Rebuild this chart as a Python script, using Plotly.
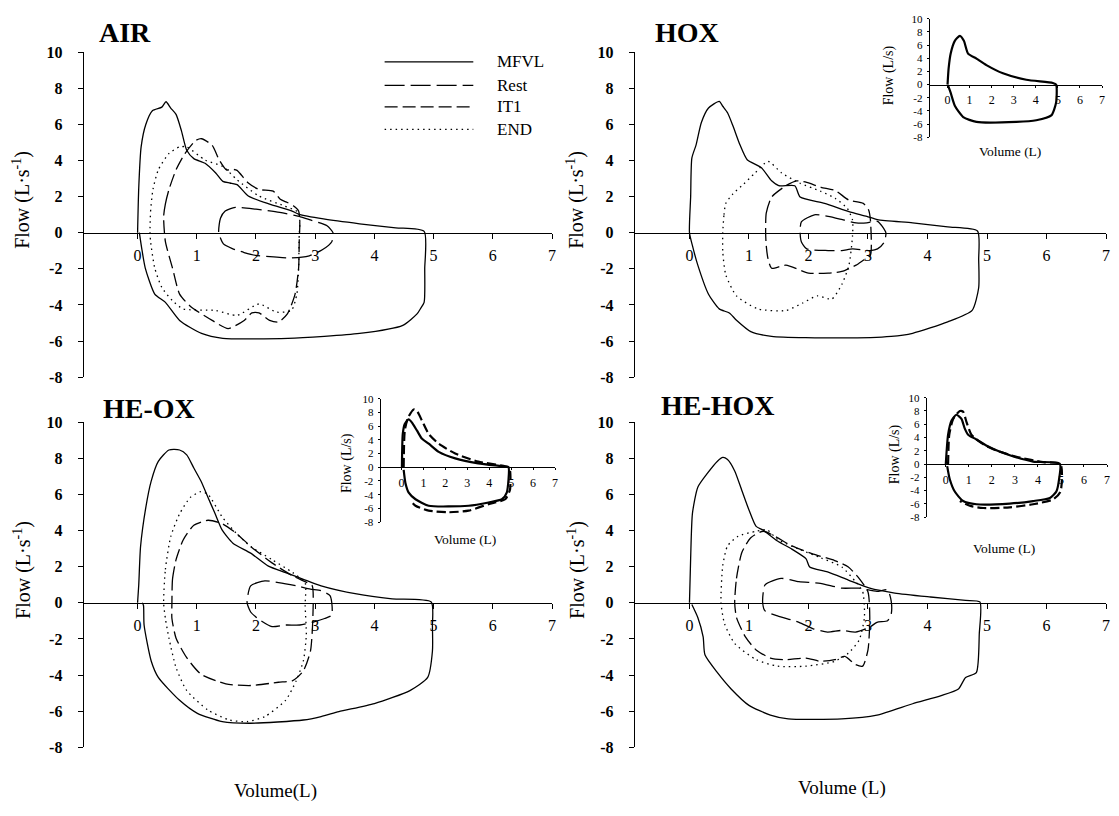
import plotly.graph_objects as go

W, H = 1119, 816
SERIF = "Liberation Serif"

# ---------------- AIR ----------------
air_mfvl_v = [0.0, 0.02, 0.06, 0.14, 0.25, 0.41, 0.48, 0.56, 0.65, 0.74, 0.83, 0.95, 1.14, 1.32, 1.44, 1.56, 1.68, 1.87, 2.23, 2.6, 2.72, 3.14, 3.75, 4.36, 4.84, 4.85, 4.84, 4.78, 4.72, 4.48, 3.75, 2.54, 1.44, 1.08, 0.71, 0.47, 0.29, 0.13, 0.07, 0.03]
air_mfvl_f = [0.0, 2.5, 4.75, 6.0, 6.75, 6.95, 7.25, 6.9, 6.55, 5.65, 4.56, 4.1, 3.84, 3.3, 2.84, 2.75, 2.66, 2.03, 1.58, 1.21, 1.03, 0.76, 0.49, 0.27, 0.07, -2.0, -3.86, -4.2, -4.5, -5.13, -5.58, -5.85, -5.85, -5.58, -4.86, -3.86, -3.4, -1.96, -0.87, 0.0]
air_rest_v = [1.37, 1.40, 1.48, 1.65, 2.0, 2.4, 2.75, 2.9, 3.2, 3.3, 3.28, 3.12, 2.9, 2.6, 2.3, 2.0, 1.8, 1.6, 1.45, 1.37]
air_rest_f = [0.0, 0.8, 1.2, 1.4, 1.3, 1.12, 0.88, 0.72, 0.38, 0.0, -0.5, -0.95, -1.28, -1.4, -1.34, -1.26, -1.1, -0.88, -0.62, 0.0]
air_it1_v = [0.44, 0.47, 0.53, 0.65, 0.8, 0.98, 1.08, 1.26, 1.38, 1.5, 1.62, 1.68, 1.87, 2.05, 2.29, 2.41, 2.53, 2.63, 2.72, 2.74, 2.73, 2.72, 2.66, 2.53, 2.38, 2.23, 2.05, 1.93, 1.8, 1.53, 1.26, 0.9, 0.71, 0.59, 0.47, 0.44]
air_it1_f = [0.9, 1.6, 2.39, 3.48, 4.38, 5.1, 5.2, 4.84, 4.02, 3.48, 3.5, 3.45, 2.75, 2.39, 2.3, 1.85, 1.67, 1.49, 1.2, 0.5, -0.5, -1.96, -3.4, -4.5, -4.95, -4.86, -4.44, -4.44, -4.86, -5.31, -4.86, -4.1, -3.4, -1.96, -0.5, 0.9]
air_end_v = [0.21, 0.22, 0.26, 0.35, 0.53, 0.71, 0.83, 1.14, 1.44, 1.68, 2.05, 2.47, 2.72, 2.74, 2.73, 2.72, 2.69, 2.6, 2.35, 2.05, 1.68, 1.32, 0.77, 0.59, 0.41, 0.29, 0.22, 0.21]
air_end_f = [0.0, 1.2, 2.39, 3.48, 4.38, 4.75, 4.75, 4.02, 3.66, 2.93, 2.03, 1.49, 1.12, 0.5, -0.14, -1.96, -3.4, -4.3, -4.4, -3.95, -4.58, -4.31, -4.22, -3.77, -3.04, -1.96, -0.5, 0.0]

# ---------------- HOX ----------------
hox_mfvl_v = [0.0, 0.02, 0.04, 0.11, 0.2, 0.32, 0.5, 0.56, 0.64, 0.73, 0.85, 0.97, 1.21, 1.38, 1.5, 1.77, 1.86, 2.27, 2.68, 2.98, 3.16, 3.75, 4.34, 4.84, 4.86, 4.86, 4.75, 4.34, 3.75, 3.39, 2.56, 1.38, 1.03, 0.79, 0.67, 0.5, 0.32, 0.14, 0.05, 0.0]
hox_mfvl_f = [0.0, 2.0, 4.13, 4.85, 6.1, 6.9, 7.27, 7.0, 6.64, 5.92, 4.85, 4.04, 3.59, 2.87, 2.6, 2.6, 1.97, 1.62, 1.17, 0.9, 0.72, 0.54, 0.32, 0.09, -1.5, -3.05, -4.3, -4.94, -5.57, -5.74, -5.83, -5.74, -5.48, -4.85, -4.45, -4.22, -3.41, -1.8, -0.72, 0.0]
hox_rest_v = [1.86, 1.88, 2.1, 2.33, 2.57, 2.8, 2.98, 3.16, 3.3, 3.27, 3.16, 3.04, 2.74, 2.56, 2.33, 1.97, 1.88, 1.86]
hox_rest_f = [0.0, 0.6, 0.99, 0.9, 0.72, 0.54, 0.54, 0.63, 0.0, -0.54, -0.9, -0.99, -0.9, -0.99, -0.99, -0.9, -0.5, 0.0]
hox_it1_v = [1.28, 1.29, 1.38, 1.62, 1.8, 1.97, 2.21, 2.45, 2.68, 2.92, 3.01, 3.04, 3.04, 2.92, 2.8, 2.56, 2.33, 2.0, 1.62, 1.38, 1.32, 1.29, 1.28]
hox_it1_f = [0.0, 1.08, 1.97, 2.6, 2.87, 2.78, 2.51, 2.33, 1.8, 1.62, 1.26, 0.72, -1.26, -1.53, -1.8, -2.15, -2.24, -2.24, -1.8, -1.97, -1.44, -0.72, 0.0]
hox_end_v = [0.56, 0.58, 0.61, 0.73, 0.91, 1.1, 1.32, 1.55, 1.85, 2.2, 2.45, 2.65, 2.74, 2.74, 2.68, 2.56, 2.39, 2.15, 1.9, 1.62, 1.15, 0.79, 0.61, 0.56, 0.56]
hox_end_f = [0.0, 1.0, 1.62, 2.15, 2.69, 3.3, 3.95, 3.3, 2.75, 2.3, 1.9, 1.35, 0.7, -0.18, -1.8, -2.87, -3.68, -3.5, -3.9, -4.31, -4.22, -3.5, -2.33, -1.08, 0.0]

# ---------------- HE-OX ----------------
heox_mfvl_v = [0.0, 0.02, 0.05, 0.14, 0.23, 0.35, 0.53, 0.71, 0.83, 0.95, 1.07, 1.19, 1.31, 1.43, 1.61, 1.91, 2.21, 2.5, 2.8, 3.1, 3.7, 4.3, 4.96, 4.98, 4.98, 4.9, 4.6, 4.0, 3.4, 3.1, 2.8, 1.91, 1.43, 1.01, 0.71, 0.35, 0.23, 0.11, 0.1, 0.08]
heox_mfvl_f = [0.0, 1.0, 3.1, 5.3, 6.74, 7.83, 8.46, 8.46, 8.19, 7.46, 6.74, 5.83, 4.93, 4.02, 3.3, 2.75, 2.03, 1.67, 1.3, 0.94, 0.49, 0.22, 0.04, -1.3, -2.68, -4.13, -4.86, -5.58, -6.03, -6.3, -6.49, -6.67, -6.58, -6.12, -5.4, -4.13, -3.22, -1.23, -0.15, 0.0]
heox_rest_v = [1.85, 1.91, 2.15, 2.38, 2.68, 2.92, 3.1, 3.25, 3.28, 3.28, 3.16, 2.98, 2.74, 2.5, 2.27, 2.03, 1.91, 1.85]
heox_rest_f = [0.0, 0.94, 1.21, 1.12, 0.94, 0.76, 0.67, 0.4, 0.0, -0.69, -0.87, -1.05, -1.23, -1.23, -1.32, -0.87, -0.51, 0.0]
heox_it1_v = [0.58, 0.59, 0.65, 0.77, 0.95, 1.19, 1.43, 1.67, 1.91, 2.27, 2.62, 2.86, 2.95, 2.96, 2.92, 2.8, 2.62, 2.38, 1.91, 1.49, 1.07, 0.83, 0.65, 0.58, 0.58]
heox_it1_f = [0.0, 1.3, 2.39, 3.48, 4.29, 4.57, 4.38, 3.84, 3.12, 2.21, 1.49, 1.12, 0.94, -0.87, -2.68, -3.77, -4.31, -4.4, -4.58, -4.49, -3.95, -3.04, -1.96, -0.87, 0.0]
heox_end_v = [0.44, 0.47, 0.56, 0.71, 0.89, 1.07, 1.19, 1.43, 1.67, 1.91, 2.27, 2.62, 2.83, 2.83, 2.85, 2.8, 2.68, 2.5, 2.15, 1.85, 1.55, 1.19, 0.83, 0.65, 0.53, 0.47, 0.44]
heox_end_f = [0.0, 1.85, 3.66, 4.93, 5.83, 6.16, 6.0, 4.75, 3.84, 3.12, 2.39, 1.67, 1.1, -0.14, -1.78, -3.22, -4.31, -5.4, -6.3, -6.58, -6.49, -5.94, -4.86, -3.59, -1.96, -0.87, 0.0]

# ---------------- HE-HOX ----------------
hehox_mfvl_v = [0.0, 0.02, 0.05, 0.14, 0.29, 0.47, 0.56, 0.64, 0.76, 0.88, 1.0, 1.12, 1.24, 1.48, 1.72, 1.96, 2.02, 2.32, 2.67, 3.03, 3.45, 4.05, 4.64, 4.88, 4.87, 4.82, 4.64, 4.52, 4.23, 3.75, 3.15, 2.56, 1.66, 1.36, 1.0, 0.7, 0.47, 0.26, 0.23, 0.14, 0.04]
hehox_mfvl_f = [0.0, 2.5, 4.95, 6.4, 7.12, 7.84, 8.05, 7.93, 7.3, 6.22, 5.14, 4.23, 4.02, 3.42, 2.97, 2.43, 1.98, 1.71, 1.26, 0.81, 0.54, 0.32, 0.13, 0.05, -1.71, -3.87, -4.14, -4.77, -5.14, -5.59, -6.22, -6.43, -6.43, -6.22, -5.68, -4.77, -3.87, -2.88, -1.89, -0.81, -0.09]
hehox_rest_v = [1.23, 1.27, 1.54, 1.84, 2.2, 2.56, 2.85, 3.15, 3.33, 3.39, 3.39, 3.33, 3.15, 3.03, 2.79, 2.56, 2.32, 2.08, 1.84, 1.48, 1.27, 1.23]
hehox_rest_f = [0.0, 0.99, 1.35, 1.17, 1.08, 0.81, 0.81, 0.63, 0.72, 0.09, -0.63, -0.99, -1.08, -1.35, -1.62, -1.53, -1.62, -1.44, -1.08, -0.72, -0.45, 0.0]
hehox_it1_v = [0.76, 0.79, 0.88, 1.03, 1.24, 1.72, 2.08, 2.44, 2.67, 2.85, 3.0, 3.03, 3.0, 2.91, 2.79, 2.61, 2.44, 2.2, 1.96, 1.6, 1.36, 1.12, 0.94, 0.79, 0.76]
hehox_it1_f = [0.0, 1.35, 2.79, 3.6, 3.96, 3.15, 2.7, 2.34, 1.98, 1.35, 0.6, -0.81, -2.61, -3.51, -3.42, -2.97, -3.15, -3.24, -3.06, -3.15, -3.06, -2.61, -1.89, -0.81, 0.0]
hehox_end_v = [0.53, 0.56, 0.64, 0.82, 1.12, 1.3, 1.48, 1.84, 2.2, 2.56, 2.79, 2.91, 2.94, 2.85, 2.67, 2.44, 1.96, 1.48, 1.12, 0.76, 0.59, 0.53]
hehox_end_f = [0.0, 2.07, 3.15, 3.69, 3.96, 4.05, 3.51, 2.97, 2.5, 1.98, 1.17, 0.63, -0.81, -2.07, -2.79, -3.24, -3.51, -3.51, -3.15, -2.25, -1.17, 0.0]

# ---------------- inset loops ----------------
ins_hox_v = [0.0, 0.05, 0.14, 0.33, 0.56, 0.74, 0.93, 1.31, 1.76, 2.51, 3.57, 4.77, 4.92, 4.92, 4.7, 4.02, 3.12, 1.31, 0.71, 0.33, 0.14, 0.03]
ins_hox_f = [0.0, 2.5, 4.7, 6.65, 7.4, 6.65, 4.7, 3.94, 2.96, 1.72, 0.74, 0.25, 0.0, -2.7, -4.68, -5.42, -5.67, -5.67, -4.93, -3.2, -1.23, -0.2]
ins_heox_air_v = [0.02, 0.06, 0.15, 0.33, 0.48, 0.71, 0.94, 1.24, 1.7, 2.45, 3.5, 4.73, 4.88, 4.8, 4.58, 3.97, 3.06, 1.24, 0.64, 0.33, 0.18, 0.1]
ins_heox_air_f = [0.0, 4.86, 6.3, 7.0, 6.5, 5.33, 4.14, 3.43, 2.24, 1.29, 0.57, 0.1, 0.0, -3.7, -4.67, -5.14, -5.62, -5.62, -4.67, -3.71, -2.29, -0.4]
ins_heox_he_v = [0.1, 0.15, 0.3, 0.56, 0.71, 0.94, 1.24, 1.7, 2.45, 3.5, 4.88, 4.95, 4.95, 4.73, 3.97, 3.06, 2.15, 1.24, 0.64, 0.41]
ins_heox_he_f = [0.0, 5.33, 7.24, 8.43, 8.19, 6.76, 4.86, 3.43, 2.0, 0.81, 0.0, -0.5, -3.24, -4.67, -5.38, -6.33, -6.57, -6.33, -5.62, -4.9]
ins_hehox_air_v = [0.0, 0.1, 0.25, 0.46, 0.68, 0.82, 0.97, 1.33, 1.91, 2.78, 3.79, 4.95, 4.92, 4.8, 4.52, 3.79, 2.78, 1.33, 0.75, 0.39, 0.17, 0.06]
ins_hehox_air_f = [0.0, 4.43, 6.57, 7.43, 6.81, 5.38, 4.43, 3.71, 2.52, 1.33, 0.38, 0.05, -2.24, -4.14, -5.1, -5.57, -5.95, -6.05, -5.57, -4.14, -2.24, -0.3]
ins_hehox_he_v = [0.1, 0.15, 0.32, 0.61, 0.75, 0.9, 1.11, 1.62, 2.2, 3.07, 4.23, 4.98, 4.98, 4.66, 3.79, 2.78, 1.62, 1.04, 0.61]
ins_hehox_he_f = [0.0, 4.4, 6.8, 8.0, 7.9, 6.33, 4.43, 3.0, 2.05, 1.1, 0.29, 0.0, -4.14, -5.33, -6.05, -6.52, -6.62, -6.29, -5.57]

y_ticks = [10, 8, 6, 4, 2, 0, -2, -4, -6, -8]
x_ticks = [0, 1, 2, 3, 4, 5, 6, 7]

series_names = ["MFVL", "Rest", "IT1", "END"]
dashes = {"MFVL": "solid", "Rest": "20px,6px", "IT1": "13px,5px", "END": "1.5px,4px"}

fig = go.Figure()


def add_axes(n, box, xr, x_size, y_size, y_bold, x_standoff, y_standoff, ticklen):
    """box = (left, right, top, bottom) in pixels of the plotting area."""
    left, right, top, bottom = box
    zero_px = top + (bottom - top) * 10 / 18
    xs = "" if n == 1 else str(n)
    y_text = ["<b>%d</b>" % t if y_bold else str(t) for t in y_ticks]
    fig.layout["xaxis" + xs] = dict(
        domain=[left / W, right / W], range=xr, anchor="free", position=1 - zero_px / H,
        showline=True, linecolor="black", linewidth=1.1, ticks="outside", ticklen=ticklen,
        tickcolor="black", tickvals=x_ticks, ticktext=[str(t) for t in x_ticks],
        tickfont=dict(family=SERIF, size=x_size, color="black"),
        ticklabelstandoff=x_standoff, showgrid=False, zeroline=False, fixedrange=True,
    )
    fig.layout["yaxis" + xs] = dict(
        domain=[1 - bottom / H, 1 - top / H], range=[-8, 10], anchor="x" + xs,
        showline=True, linecolor="black", linewidth=1.1, ticks="outside", ticklen=ticklen,
        tickcolor="black", tickvals=y_ticks, ticktext=y_text,
        tickfont=dict(family=SERIF, size=y_size, color="black"),
        ticklabelstandoff=y_standoff, showgrid=False, zeroline=False, fixedrange=True,
    )


# main panels
add_axes(1, (84, 554, 45, 377), [-0.91, 7.0], 16, 16, True, 3, 12, 5)
add_axes(2, (637, 1110, 45, 377), [-0.92, 7.0], 16, 16, True, 3, 12, 5)
add_axes(3, (84, 554, 423, 755), [-0.91, 7.0], 16, 16, True, 3, 12, 5)
add_axes(4, (637, 1110, 423, 755), [-0.92, 7.0], 16, 16, True, 3, 12, 5)
# insets
add_axes(5, (933, 1106, 11, 132), [-0.81, 7.0], 12, 11, False, 2, 2, 2)
add_axes(6, (382, 557, 399, 525), [-0.95, 7.0], 12, 11, False, 2, 2, 2)
add_axes(7, (930, 1111, 398, 520), [-0.83, 7.0], 12, 11, False, 2, 2, 2)

panels = [
    (1, [(air_mfvl_v, air_mfvl_f), (air_rest_v, air_rest_f), (air_it1_v, air_it1_f), (air_end_v, air_end_f)]),
    (2, [(hox_mfvl_v, hox_mfvl_f), (hox_rest_v, hox_rest_f), (hox_it1_v, hox_it1_f), (hox_end_v, hox_end_f)]),
    (3, [(heox_mfvl_v, heox_mfvl_f), (heox_rest_v, heox_rest_f), (heox_it1_v, heox_it1_f), (heox_end_v, heox_end_f)]),
    (4, [(hehox_mfvl_v, hehox_mfvl_f), (hehox_rest_v, hehox_rest_f), (hehox_it1_v, hehox_it1_f), (hehox_end_v, hehox_end_f)]),
]

for n, loops in panels:
    xs = "" if n == 1 else str(n)
    for name, (v, f) in zip(series_names, loops):
        fig.add_trace(go.Scatter(
            x=v, y=f, mode="lines", name=name, showlegend=False,
            xaxis="x" + xs, yaxis="y" + xs,
            line=dict(color="black", width=1.3, dash=dashes[name], shape="spline", smoothing=0.6),
        ))

insets = [
    (5, [(ins_hox_v, ins_hox_f, "solid")]),
    (6, [(ins_heox_air_v, ins_heox_air_f, "solid"), (ins_heox_he_v, ins_heox_he_f, "9px,4px")]),
    (7, [(ins_hehox_air_v, ins_hehox_air_f, "solid"), (ins_hehox_he_v, ins_hehox_he_f, "9px,4px")]),
]
for n, loops in insets:
    for v, f, d in loops:
        fig.add_trace(go.Scatter(
            x=v, y=f, mode="lines", showlegend=False, xaxis="x%d" % n, yaxis="y%d" % n,
            line=dict(color="black", width=2.2, dash=d, shape="spline", smoothing=0.6),
        ))

annotations = []


def text(x, y, s, size, bold=False, angle=0, xanchor="center"):
    annotations.append(dict(
        x=x / W, y=1 - y / H, xref="paper", yref="paper", text="<b>%s</b>" % s if bold else s,
        showarrow=False, textangle=angle, xanchor=xanchor, yanchor="middle",
        font=dict(family=SERIF, size=size, color="black"),
    ))


# panel titles
text(125, 25, "AIR", 28, bold=True)
text(689, 25, "HOX", 28, bold=True)
text(150, 409, "HE-OX", 28, bold=True)
text(721, 406, "HE-HOX", 28, bold=True)

# y-axis titles
flow_title = "Flow (L·s<sup>-1</sup>)"
for x, y in [(22, 196), (578, 196), (22, 574), (578, 574)]:
    text(x, y, flow_title, 20, angle=-90)

text(276, 800, "Volume(L)", 19)
text(845, 797, "Volume (L)", 19)

# inset titles
for x, y in [(892, 69), (349, 465), (898, 456)]:
    text(x, y, "Flow (L/s)", 14, angle=-90)
for x, y in [(1014, 147), (467, 543), (1008, 552)]:
    text(x, y, "Volume (L)", 13.5)

# legend (AIR panel)
shapes = []
for i, name in enumerate(series_names):
    ypx = [55, 79, 101, 124][i]
    shapes.append(dict(type="line", xref="paper", yref="paper", x0=386 / W, x1=475 / W,
                       y0=1 - ypx / H, y1=1 - ypx / H,
                       line=dict(color="black", width=1.3, dash=dashes[name])))
    text(497, ypx, name, 17, xanchor="left")

fig.update_layout(
    width=W, height=H, margin=dict(l=0, r=0, t=0, b=0),
    paper_bgcolor="white", plot_bgcolor="rgba(0,0,0,0)",
    annotations=annotations, shapes=shapes, showlegend=False,
)

fig.write_html("out.html")
